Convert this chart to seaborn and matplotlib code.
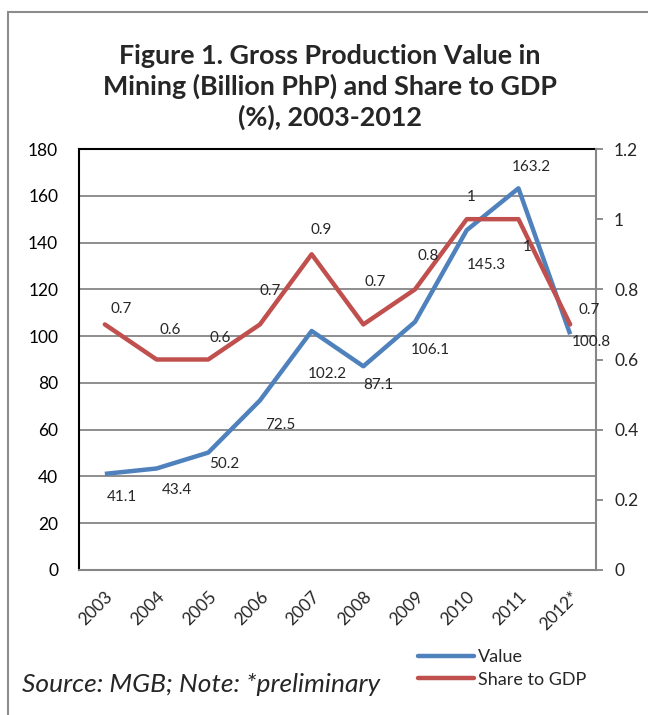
import matplotlib
matplotlib.use("Agg")
import matplotlib.pyplot as plt
import seaborn as sns
import pandas as pd
from matplotlib.patches import Rectangle
from matplotlib.lines import Line2D

years = ["2003", "2004", "2005", "2006", "2007", "2008", "2009", "2010", "2011", "2012*"]
value = [41.1, 43.4, 50.2, 72.5, 102.2, 87.1, 106.1, 145.3, 163.2, 100.8]
share = [0.7, 0.6, 0.6, 0.7, 0.9, 0.7, 0.8, 1.0, 1.0, 0.7]
value_labels = ["41.1", "43.4", "50.2", "72.5", "102.2", "87.1", "106.1", "145.3", "163.2", "100.8"]
share_labels = ["0.7", "0.6", "0.6", "0.7", "0.9", "0.7", "0.8", "1", "1", "0.7"]

# label offsets in pixels (dx, dy)
value_off = [(17, -23), (20, -22), (16, -11), (20, -25), (16, -43), (15, -19),
             (15, -28), (20, -35), (13, 21), (21, -8)]
share_off = [(16, 15), (14, 30), (12, 22), (10, 33), (10, 24), (12, 42),
             (13, 33), (4, 22), (9, -28), (19, 14)]

sns.set_style("white")
plt.rcParams['font.family'] = ['Lato', 'DejaVu Sans']

BLUE = "#4F81BD"
RED = "#C0504D"
GRID = "#868686"

df = pd.DataFrame({"year": years, "value": value, "share": share})

fig = plt.figure(figsize=(6.48, 7.15), dpi=100)
W, H = 648, 715
ax = fig.add_axes([79 / W, 1 - 570 / H, (596 - 79) / W, (570 - 149) / H])

sns.lineplot(data=df, x="year", y="value", ax=ax, color=BLUE, linewidth=3.2,
             sort=False, solid_capstyle="butt", zorder=3)
ax.set_xlim(-0.5, 9.5)
ax.set_ylim(0, 180)
ax.set_yticks(range(0, 181, 20))
ax.set_yticklabels([str(v) for v in range(0, 181, 20)])
ax.yaxis.grid(True, color=GRID, linewidth=1.3)
ax.xaxis.grid(False)
ax.set_xlabel("")
ax.set_ylabel("")
ax.tick_params(axis="y", length=0, pad=15, labelsize=12.5, colors="black")
ax.tick_params(axis="x", length=0, pad=13.5, labelsize=12.5)
for lab in ax.get_xticklabels():
    lab.set_rotation(45)
    lab.set_ha("right")
    lab.set_va("top")
    lab.set_rotation_mode("anchor")
for s in ["left", "top"]:
    ax.spines[s].set_color("black")
    ax.spines[s].set_linewidth(1.5)
ax.spines["bottom"].set_color(GRID)
ax.spines["bottom"].set_linewidth(1.5)
ax.spines["right"].set_visible(False)

ax2 = ax.twinx()
sns.lineplot(data=df, x="year", y="share", ax=ax2, color=RED, linewidth=3.2,
             sort=False, zorder=3)
ax2.set_ylim(0, 1.2)
ticks2 = [0, 0.2, 0.4, 0.6, 0.8, 1.0, 1.2]
ax2.set_yticks(ticks2)
ax2.set_yticklabels(["0", "0.2", "0.4", "0.6", "0.8", "1", "1.2"])
ax2.set_ylabel("")
ax2.tick_params(axis="y", length=5, width=1.3, color=GRID, pad=8, labelsize=12.5)
ax2.spines["right"].set_visible(True)
ax2.spines["right"].set_color(GRID)
ax2.spines["right"].set_linewidth(1.5)
for s in ["left", "top", "bottom"]:
    ax2.spines[s].set_visible(False)
ax2.grid(False)

for i, (v, lab) in enumerate(zip(value, value_labels)):
    ax2.annotate(lab, xy=(i, v / 150.0), xycoords=ax2.transData,
                 xytext=value_off[i], textcoords="offset pixels",
                 ha="center", va="center", fontsize=11, zorder=5)
for i, (v, lab) in enumerate(zip(share, share_labels)):
    ax2.annotate(lab, xy=(i, v), xytext=share_off[i], textcoords="offset pixels",
                 ha="center", va="center", fontsize=11, zorder=5)

fig.text(330 / W, 1 - 87 / H,
         "Figure 1. Gross Production Value in\nMining (Billion PhP) and Share to GDP\n(%), 2003-2012",
         ha="center", va="center", fontsize=19.4, fontweight="bold", linespacing=1.25)

fig.text(22 / W, 1 - 684 / H, "Source: MGB; Note: *preliminary",
         ha="left", va="center", fontsize=19, style="italic")

handles = [Line2D([], [], color=BLUE, linewidth=3.2, solid_capstyle="round"),
           Line2D([], [], color=RED, linewidth=3.2, solid_capstyle="round")]
fig.legend(handles, ["Value", "Share to GDP"], loc="center left",
           bbox_to_anchor=(418 / W, 1 - 668.5 / H), frameon=False,
           fontsize=13, handlelength=3.1, handletextpad=0.2,
           borderpad=0, borderaxespad=0, labelspacing=0.35)

fig.patches.append(Rectangle((8 / W, -0.1), 1.2, (1 - 12 / H) + 0.1,
                             transform=fig.transFigure, fill=False,
                             edgecolor="#8c8c8c", linewidth=1.5))

fig.savefig("out.png", dpi=100)
